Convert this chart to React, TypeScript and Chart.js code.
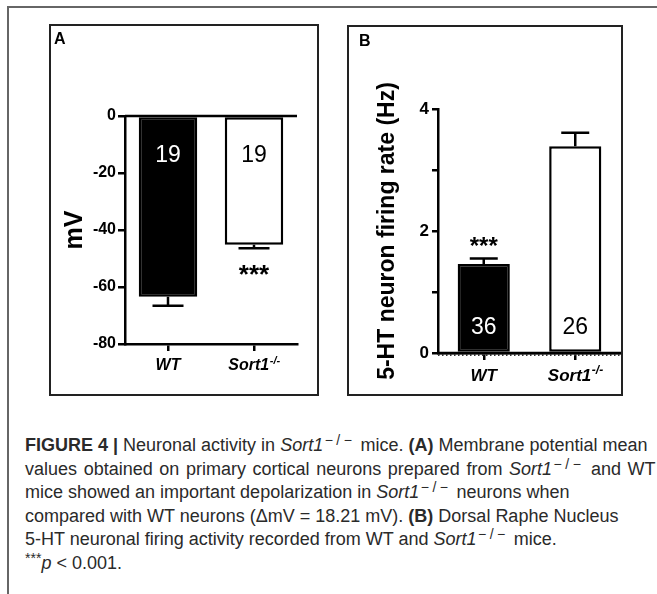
import React, { useEffect, useRef } from "react";
import { Chart, registerables } from "chart.js";

Chart.register(...registerables);

// ---------- data ----------
const categories = ["WT", "Sort1"];
const categorySup = ["", "-/-"];

const membraneMean = [-63.4, -45.2];
const membraneSem = [3.2, 1.2];
const membraneN = [19, 19];
const membraneSig = ["", "***"];
const membraneTickStep = 20;
const membraneMin = -80;
const membraneMax = 0;

const firingMean = [1.46, 3.39];
const firingSem = [0.09, 0.22];
const firingN = [36, 26];
const firingSig = ["***", ""];
const firingMin = 0;
const firingMax = 4;
const firingLabelledTicks = [0, 2, 4];

const barFill = ["#000000", "#ffffff"];
const nTextColor = ["#ffffff", "#000000"];

const FONT = '"Liberation Sans", Arial, Helvetica, sans-serif';

type AnnotCfg = {
  means: number[];
  sems: number[];
  ns: number[];
  sigs: string[];
  dir: number;
  capWidth: number;
  nOffset: number;
  sigOffset: number;
  sigSize: number;
  labelSize: number;
  supSize: number;
  labelBaseline: number;
  supRaise: number;
  dotted: boolean;
};

function makeAnnot(cfg: AnnotCfg) {
  return {
    id: "annot",
    afterDatasetsDraw(chart: any) {
      const ctx = chart.ctx as CanvasRenderingContext2D;
      const xs = chart.scales.x;
      const ys = chart.scales.y;
      const area = chart.chartArea;
      const meta = chart.getDatasetMeta(0);
      const y0 = ys.getPixelForValue(0);
      ctx.save();
      // zero line
      ctx.strokeStyle = "#000";
      ctx.lineWidth = 2.5;
      ctx.beginPath();
      ctx.moveTo(area.left, y0);
      ctx.lineTo(area.right, y0);
      ctx.stroke();
      if (cfg.dotted) {
        ctx.setLineDash([1.5, 2.5]);
        ctx.lineWidth = 2;
        ctx.strokeStyle = "#333";
        ctx.beginPath();
        ctx.moveTo(area.left, y0 + 2);
        ctx.lineTo(area.right, y0 + 2);
        ctx.stroke();
        ctx.setLineDash([]);
      }
      meta.data.forEach((bar: any, i: number) => {
        const bx = bar.x;
        const yv = ys.getPixelForValue(cfg.means[i]);
        const ye = ys.getPixelForValue(cfg.means[i] + cfg.dir * cfg.sems[i]);
        ctx.strokeStyle = "#000";
        ctx.lineWidth = 2.5;
        ctx.beginPath();
        ctx.moveTo(bx, yv);
        ctx.lineTo(bx, ye);
        ctx.moveTo(bx - cfg.capWidth / 2, ye);
        ctx.lineTo(bx + cfg.capWidth / 2, ye);
        ctx.stroke();

        ctx.fillStyle = nTextColor[i];
        ctx.font = `23px ${FONT}`;
        ctx.textAlign = "center";
        ctx.textBaseline = "middle";
        ctx.fillText(String(cfg.ns[i]), bx, y0 + cfg.nOffset);

        if (cfg.sigs[i]) {
          ctx.fillStyle = "#000";
          ctx.font = `bold ${cfg.sigSize}px ${FONT}`;
          ctx.textBaseline = "alphabetic";
          ctx.fillText(cfg.sigs[i], bx, ye + cfg.sigOffset);
        }

        // category label with superscript
        const tx = xs.getPixelForValue(i);
        const mainFont = `italic bold ${cfg.labelSize}px ${FONT}`;
        const supFont = `italic bold ${cfg.supSize}px ${FONT}`;
        ctx.font = mainFont;
        const w1 = ctx.measureText(categories[i]).width;
        ctx.font = supFont;
        const w2 = categorySup[i] ? ctx.measureText(categorySup[i]).width : 0;
        const start = tx - (w1 + w2) / 2;
        const base = area.bottom + cfg.labelBaseline;
        ctx.fillStyle = "#000";
        ctx.textAlign = "left";
        ctx.textBaseline = "alphabetic";
        ctx.font = mainFont;
        ctx.fillText(categories[i], start, base);
        if (categorySup[i]) {
          ctx.font = supFont;
          ctx.fillText(categorySup[i], start + w1 + 0.5, base - cfg.supRaise);
        }
      });
      ctx.restore();
    },
  };
}

function axisGrid(len: number) {
  return {
    display: true,
    drawOnChartArea: false,
    drawTicks: true,
    tickLength: len,
    offset: false,
    color: "#000",
    lineWidth: 2.5,
  };
}
const axisBorder = { display: true, color: "#000", width: 2.5 };

function configA() {
  return {
    type: "bar",
    data: {
      labels: categories,
      datasets: [
        {
          data: membraneMean,
          backgroundColor: barFill,
          borderColor: "#000",
          borderWidth: 2.5,
          borderSkipped: false,
          barPercentage: 0.68,
          categoryPercentage: 1,
        },
      ],
    },
    options: {
      responsive: false,
      animation: false,
      devicePixelRatio: 1,
      layout: { padding: { left: 0, right: 20, top: 90, bottom: 0 } },
      plugins: { legend: { display: false }, tooltip: { enabled: false } },
      scales: {
        x: {
          afterFit: (s: any) => {
            s.height = 50;
          },
          grid: axisGrid(7),
          border: axisBorder,
          ticks: { display: false },
        },
        y: {
          min: membraneMin,
          max: membraneMax,
          afterFit: (s: any) => {
            s.width = 74;
          },
          ticks: {
            stepSize: membraneTickStep,
            font: { family: FONT, size: 16, weight: "bold" },
            color: "#000",
            padding: 2,
          },
          grid: axisGrid(7),
          border: axisBorder,
          title: {
            display: true,
            text: "mV",
            color: "#000",
            font: { family: FONT, size: 25, weight: "bold" },
            padding: { top: 9, bottom: 0 },
          },
        },
      },
    },
    plugins: [
      makeAnnot({
        means: membraneMean,
        sems: membraneSem,
        ns: membraneN,
        sigs: membraneSig,
        dir: -1,
        capWidth: 31,
        nOffset: 40,
        sigOffset: 35,
        sigSize: 26,
        labelSize: 16,
        supSize: 11,
        labelBaseline: 26,
        supRaise: 6,
        dotted: false,
      }),
    ],
  };
}

function configB() {
  return {
    type: "bar",
    data: {
      labels: categories,
      datasets: [
        {
          data: firingMean,
          backgroundColor: barFill,
          borderColor: "#000",
          borderWidth: 2.5,
          borderSkipped: false,
          barPercentage: 0.57,
          categoryPercentage: 1,
        },
      ],
    },
    options: {
      responsive: false,
      animation: false,
      devicePixelRatio: 1,
      layout: { padding: { left: 0, right: 0, top: 82, bottom: 0 } },
      plugins: { legend: { display: false }, tooltip: { enabled: false } },
      scales: {
        x: {
          afterFit: (s: any) => {
            s.height = 41;
          },
          grid: axisGrid(7),
          border: axisBorder,
          ticks: { display: false },
        },
        y: {
          min: firingMin,
          max: firingMax,
          afterFit: (s: any) => {
            s.width = 89;
          },
          ticks: {
            stepSize: 1,
            font: { family: FONT, size: 17, weight: "bold" },
            color: "#000",
            padding: 3,
            callback: (v: any) => (firingLabelledTicks.includes(Number(v)) ? String(v) : ""),
          },
          grid: axisGrid(6),
          border: axisBorder,
          title: {
            display: true,
            text: "5-HT neuron firing rate (Hz)",
            color: "#000",
            font: { family: FONT, size: 23, weight: "bold" },
            padding: { top: 25, bottom: 0 },
          },
        },
      },
    },
    plugins: [
      makeAnnot({
        means: firingMean,
        sems: firingSem,
        ns: firingN,
        sigs: firingSig,
        dir: 1,
        capWidth: 28,
        nOffset: -25,
        sigOffset: -4,
        sigSize: 24,
        labelSize: 17,
        supSize: 12,
        labelBaseline: 28,
        supRaise: 7,
        dotted: true,
      }),
    ],
  };
}

function ChartCanvas(props: { width: number; height: number; build: () => any }) {
  const ref = useRef<HTMLCanvasElement>(null);
  useEffect(() => {
    const chart = new Chart(ref.current as HTMLCanvasElement, props.build() as any);
    return () => chart.destroy();
  }, []);
  return (
    <canvas
      ref={ref}
      width={props.width}
      height={props.height}
      style={{ display: "block", width: props.width, height: props.height }}
    />
  );
}

const sup: React.CSSProperties = { fontSize: "0.78em", position: "relative", top: "-0.42em", lineHeight: 0 };
const supWide: React.CSSProperties = { ...sup, letterSpacing: "3.5px", marginLeft: "1.5px" };

function Sort1() {
  return (
    <>
      <i>Sort1</i>
      <span style={supWide}>{"\u2212/\u2212"}</span>
    </>
  );
}

export default function App() {
  const lineStyle: React.CSSProperties = { height: 23.6, lineHeight: "23.6px", whiteSpace: "nowrap" };
  return (
    <div
      style={{
        position: "absolute",
        left: 0,
        top: 0,
        width: 657,
        height: 594,
        background: "#fff",
        overflow: "hidden",
        fontFamily: FONT,
      }}
    >
      {/* outer frame */}
      <div
        style={{
          position: "absolute",
          left: 7,
          top: 6,
          width: 700,
          height: 700,
          borderLeft: "2px solid #666",
          borderTop: "2px solid #666",
        }}
      />
      {/* panel A */}
      <div
        style={{
          position: "absolute",
          left: 49,
          top: 24,
          width: 266,
          height: 368,
          border: "2px solid #222",
        }}
      >
        <ChartCanvas width={266} height={368} build={configA} />
        <div style={{ position: "absolute", left: 3, top: 4, fontSize: 16, fontWeight: "bold", lineHeight: "18px" }}>A</div>
      </div>
      {/* panel B */}
      <div
        style={{
          position: "absolute",
          left: 347,
          top: 25,
          width: 272,
          height: 367,
          border: "2px solid #222",
        }}
      >
        <ChartCanvas width={272} height={367} build={configB} />
        <div style={{ position: "absolute", left: 10, top: 5, fontSize: 16, fontWeight: "bold", lineHeight: "18px" }}>B</div>
      </div>
      {/* caption */}
      <div style={{ position: "absolute", left: 25, top: 434, fontSize: 18, color: "#2a2a2a" }}>
        <div style={lineStyle}>
          <b>FIGURE 4 |</b> Neuronal activity in <Sort1 /> mice. <b>(A)</b> Membrane potential mean
        </div>
        <div style={{ ...lineStyle, wordSpacing: "1.6px" }}>
          values obtained on primary cortical neurons prepared from <Sort1 /> and WT
        </div>
        <div style={lineStyle}>
          mice showed an important depolarization in <Sort1 /> neurons when
        </div>
        <div style={lineStyle}>
          compared with WT neurons ({"\u0394"}mV = 18.21 mV). <b>(B)</b> Dorsal Raphe Nucleus
        </div>
        <div style={lineStyle}>
          5-HT neuronal firing activity recorded from WT and <Sort1 /> mice.
        </div>
        <div style={lineStyle}>
          <span style={sup}>***</span>
          <i>p</i> {"<"} 0.001.
        </div>
      </div>
    </div>
  );
}
